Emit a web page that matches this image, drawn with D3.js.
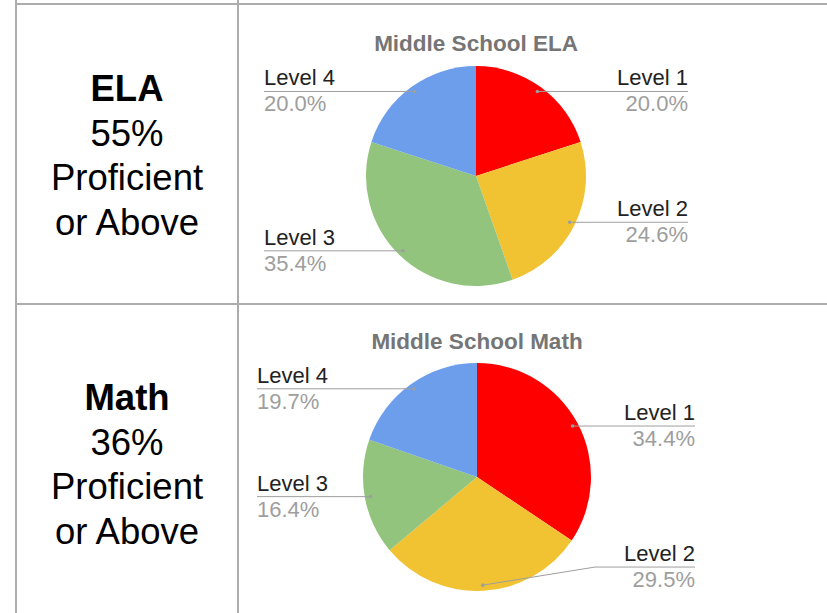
<!DOCTYPE html>
<html>
<head>
<meta charset="utf-8">
<script src="https://cdnjs.cloudflare.com/ajax/libs/d3/7.8.5/d3.min.js"></script>
<style>
  html, body { margin: 0; padding: 0; background: #fff; }
  svg { display: block; font-family: "Liberation Sans", Arial, sans-serif; }
</style>
</head>
<body>
<svg id="chart" width="827" height="613"></svg>
<script>
// data
const levels = ["Level 1", "Level 2", "Level 3", "Level 4"];
const levelColors = ["#ff0000", "#f1c232", "#93c47d", "#6d9eeb"];
const elaValues = [20.0, 24.6, 35.4, 20.0];
const mathValues = [34.4, 29.5, 16.4, 19.7];
const subjects = ["ELA", "Math"];
const proficientPct = ["55%", "36%"];
const chartTitles = ["Middle School ELA", "Middle School Math"];

// layout for the two rows
const rows = [
    { values: elaValues, top: 4, bottom: 304, cx: 476, cy: 176, r: 110, titleDy: -125, left: 264, right: 688 },
    { values: mathValues, top: 304, bottom: 622, cx: 477, cy: 477, r: 114, titleDy: -128, left: 257, right: 695 }
];

var svg = d3.select("#chart");
var gridColor = "#adadad";

// table grid
svg.append("line").attr("x1", 16).attr("x2", 827).attr("y1", 4).attr("y2", 4)
    .attr("stroke", gridColor).attr("stroke-width", 2);
svg.append("line").attr("x1", 16).attr("x2", 827).attr("y1", 304).attr("y2", 304)
    .attr("stroke", gridColor).attr("stroke-width", 2);
svg.append("line").attr("x1", 16).attr("x2", 16).attr("y1", 0).attr("y2", 613)
    .attr("stroke", gridColor).attr("stroke-width", 2);
svg.append("line").attr("x1", 238).attr("x2", 238).attr("y1", 0).attr("y2", 613)
    .attr("stroke", gridColor).attr("stroke-width", 2);

var pie = d3.pie().sort(null).value(function(d) { return d; });
var color = d3.scaleOrdinal().domain(levels).range(levelColors);
var fmt = d3.format(".1%");

rows.forEach(function(row, i) {
    // left column text
    var lineH = 44.5;
    var mid = (row.top + row.bottom) / 2;
    var firstBase = mid - 1.5 * lineH + 14;
    var lines = [subjects[i], proficientPct[i], "Proficient", "or Above"];
    var txt = svg.append("text")
        .attr("x", 127)
        .attr("text-anchor", "middle")
        .attr("font-size", 36.5)
        .attr("fill", "#000");
    lines.forEach(function(s, k) {
        txt.append("tspan")
            .attr("x", 127)
            .attr("y", firstBase + k * lineH)
            .attr("font-weight", k === 0 ? "bold" : "normal")
            .text(s);
    });

    // pie
    var g = svg.append("g").attr("transform", "translate(" + row.cx + "," + row.cy + ")");
    var total = d3.sum(row.values);
    var arcs = pie(row.values);
    var arc = d3.arc().innerRadius(0).outerRadius(row.r);

    g.append("text")
        .attr("x", 0)
        .attr("y", row.titleDy)
        .attr("text-anchor", "middle")
        .attr("font-size", 22.5)
        .attr("font-weight", "bold")
        .attr("fill", "#757575")
        .text(chartTitles[i]);

    g.selectAll(".slice")
        .data(arcs)
        .enter().append("path")
        .attr("class", "slice")
        .attr("d", arc)
        .attr("fill", function(d, k) { return color(levels[k]); });

    // labels with leader lines
    arcs.forEach(function(d, k) {
        var a = (d.startAngle + d.endAngle) / 2;
        var ar = row.r * 0.95;
        var ax = Math.sin(a) * ar;
        var ay = -Math.cos(a) * ar;
        var onRight = ax > 0;
        var maxDy = row.r * 0.79;
        var ly = Math.max(-maxDy, Math.min(maxDy, ay));
        var endX = (onRight ? row.right : row.left) - row.cx;
        var pts;
        if (Math.abs(ly - ay) > 1) {
            var elbowX = (onRight ? 1 : -1) * (row.r + 4);
            pts = [[ax, ay], [elbowX, ly], [endX, ly]];
        } else {
            pts = [[ax, ay], [endX, ly]];
        }
        g.append("path")
            .attr("d", d3.line()(pts))
            .attr("fill", "none")
            .attr("stroke", "#9e9e9e")
            .attr("stroke-width", 1);
        g.append("circle")
            .attr("cx", ax).attr("cy", ay).attr("r", 1.8)
            .attr("fill", "#9e9e9e");

        var anchor = onRight ? "end" : "start";
        g.append("text")
            .attr("x", endX)
            .attr("y", ly - 6)
            .attr("text-anchor", anchor)
            .attr("font-size", 22)
            .attr("fill", "#222")
            .text(levels[k]);
        g.append("text")
            .attr("x", endX)
            .attr("y", ly + 20)
            .attr("text-anchor", anchor)
            .attr("font-size", 22)
            .attr("fill", "#9e9e9e")
            .text(fmt(d.data / total));
    });
});
</script>
</body>
</html>
